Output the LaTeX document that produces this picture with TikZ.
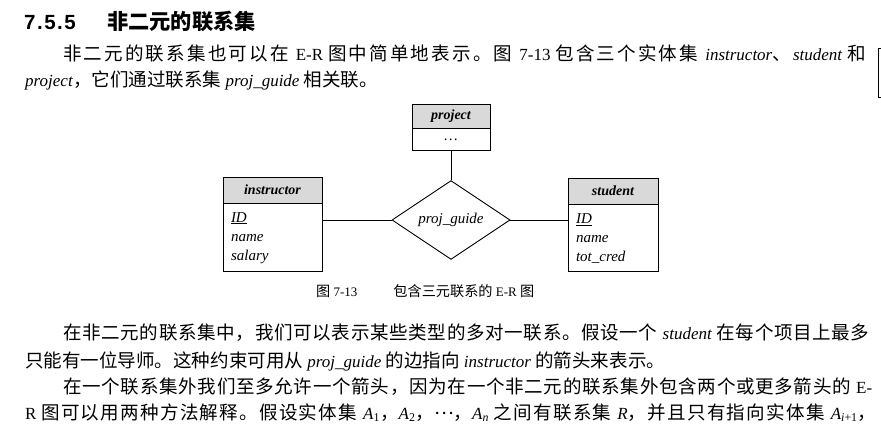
\documentclass[tikz,border=0pt]{standalone}
\usepackage{fontspec}
\setmainfont{Liberation Serif}
\newfontfamily\zh[Scale=1.09]{Noto Sans CJK SC}
\newfontfamily\hd{Liberation Sans}
\usetikzlibrary{positioning,shapes.geometric}

% Chinese run with stretchable gaps between the characters
\newcommand\zs[1]{{\zh\zsloop#1\zsend}}
\let\zsend\relax
\def\zsloop#1{\ifx#1\zsend\else#1\hskip0pt plus 1pt\relax\expandafter\zsloop\fi}
\newcommand\fullline[2]{\hbox to #1{\spaceskip=4.3pt plus 0.3pt minus 1pt\relax #2}}

\tikzset{
  textline/.style={anchor=base west, inner sep=0pt, font=\fontsize{17}{20}\selectfont},
  entityhead/.style={draw, line width=0.9pt, fill=gray!30, inner sep=0pt,
    font=\bfseries\itshape\fontsize{14}{16}\selectfont},
  entitybody/.style={draw, line width=0.9pt, inner xsep=8pt, inner ysep=0pt,
    align=left, font=\itshape\fontsize{15}{19}\selectfont},
  relation/.style={diamond, draw, line width=0.9pt, inner sep=0pt,
    minimum width=118pt, minimum height=69pt, font=\itshape\fontsize{15}{17}\selectfont},
  link/.style={line width=0.9pt}
}

\begin{document}
\begin{tikzpicture}[x=1pt,y=-1pt]
  \useasboundingbox (0,0) rectangle (881,430);
  \fill[white] (0,0) rectangle (881,430);
  % heading
  \node[anchor=base west, inner sep=0pt, font=\hd\bfseries\fontsize{20.5}{22}\selectfont] (secno) at (24,30)
    {7\kern1.5pt.\kern1.5pt5\kern1.5pt.\kern1.5pt5};
  \node[anchor=base west, inner sep=0pt, font=\bfseries\fontsize{19.5}{22}\selectfont] (sectitle) at (107,30)
    {\zh 非二元的联系集};
  % first paragraph
  \node[textline] (para1a) at (63,61) {\fullline{805pt}{\zs{非二元的联系集也可以在} E-R \zs{图中简单地表示。图} 7-13 \zs{包含三个实体集} \textit{instructor}\zs{、}\textit{student} \zs{和}}};
  \node[textline] (para1b) at (25,87) {\textit{project}{\zh ，它们通过联系集} \textit{proj\_guide} {\zh 相关联。}};
  % margin mark
  \draw[line width=0.8pt] (881,48) -- (878,48) -- (878,97) -- (881,97);

  % the E-R diagram
  \node[entityhead, minimum width=78pt, minimum height=24pt] (phead) at (451,116) {project};
  \node[entitybody, text width=62pt, minimum height=22pt, align=center, below=0pt of phead] (pbody) {\ldots};
  \node[entityhead, minimum width=99pt, minimum height=26pt] (ihead) at (272.5,190) {instructor};
  \node[entitybody, text width=83pt, minimum height=68pt, below=0pt of ihead] (ibody) {\underline{ID}\\name\\salary};
  \node[entityhead, minimum width=90pt, minimum height=26pt] (shead) at (613,191) {student};
  \node[entitybody, text width=74pt, minimum height=67pt, below=0pt of shead] (sbody) {\underline{ID}\\name\\tot\_cred};
  \node[relation] (pg) at (451,220) {proj\_guide};
  \draw[link] (pg.west) -- (pg.west -| ibody.east);
  \draw[link] (pg.east) -- (pg.east -| sbody.west);
  \draw[link] (pg.north) -- (pbody.south);
  \node[anchor=base west, inner sep=0pt, font=\fontsize{13}{15}\selectfont] (caption) at (316,297)
    {{\zh 图} 7-13\hspace{36pt}{\zh 包含三元联系的} E-R {\zh 图}};

  % second and third paragraph
  \node[textline] (para2a) at (63,340) {\fullline{807pt}{\zs{在非二元的联系集中，我们可以表示某些类型的多对一联系。假设一个} \textit{student} \zs{在每个项目上最多}}};
  \node[textline] (para2b) at (25,367) {{\zh 只能有一位导师。这种约束可用从} \textit{proj\_guide} {\zh 的边指向} \textit{instructor} {\zh 的箭头来表示。}};
  \node[textline] (para3a) at (63,393) {\fullline{809pt}{\zs{在一个联系集外我们至多允许一个箭头，因为在一个非二元的联系集外包含两个或更多箭头的} E-}};
  \node[textline] (para3b) at (25,419) {\fullline{851pt}{R \zs{图可以用两种方法解释。假设实体集} \textit{A}\textsubscript{1}{\zh ，}\textit{A}\textsubscript{2}{\zh ，}\raisebox{5pt}{\zh …}{\zh ，}\textit{A}\textsubscript{\textit{n}} \zs{之间有联系集} \textit{R}\zs{，并且只有指向实体集} \textit{A}\textsubscript{\textit{i}+1}{\zh ，}}};
\end{tikzpicture}
\end{document}
